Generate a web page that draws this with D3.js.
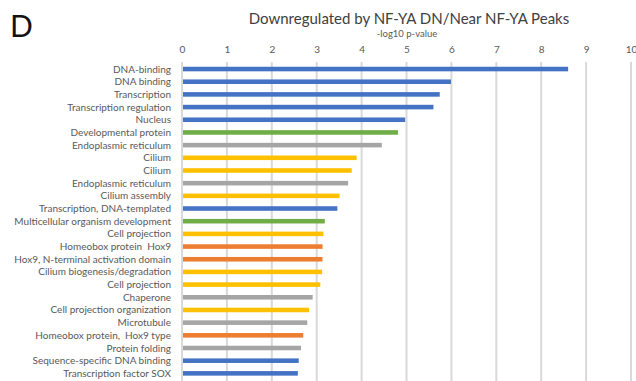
<!DOCTYPE html>
<html>
<head>
<meta charset="utf-8">
<script src="https://cdn.jsdelivr.net/npm/d3@7"></script>
<style>
  html, body { margin: 0; padding: 0; background: #fff; }
  svg { display: block; }
</style>
</head>
<body>
<svg id="chart" width="636" height="381"></svg>
<script>
// Functional annotation terms, top to bottom
const terms = [
  "DNA-binding", "DNA binding", "Transcription", "Transcription regulation",
  "Nucleus", "Developmental protein", "Endoplasmic reticulum", "Cilium",
  "Cilium", "Endoplasmic reticulum", "Cilium assembly",
  "Transcription, DNA-templated", "Multicellular organism development",
  "Cell projection", "Homeobox protein  Hox9", "Hox9, N-terminal activation domain",
  "Cilium biogenesis/degradation", "Cell projection", "Chaperone",
  "Cell projection organization", "Microtubule", "Homeobox protein,  Hox9 type",
  "Protein folding", "Sequence-specific DNA binding", "Transcription factor SOX"
];
// -log10 p-values
const pValues = [
  8.6, 5.99, 5.74, 5.6, 4.97, 4.81, 4.45, 3.89, 3.78, 3.7, 3.51, 3.46,
  3.18, 3.15, 3.13, 3.13, 3.12, 3.08, 2.91, 2.83, 2.79, 2.7, 2.65, 2.6, 2.58
];
// Functional group of each term
const groups = [
  "nuclear", "nuclear", "nuclear", "nuclear", "nuclear", "development", "other",
  "cilia", "cilia", "other", "cilia", "nuclear", "development", "cilia",
  "hox", "hox", "cilia", "cilia", "other", "cilia", "other", "hox", "other",
  "nuclear", "nuclear"
];
const groupNames = ["nuclear", "development", "other", "cilia", "hox"];
const groupColors = ["#4472C4", "#70AD47", "#A5A5A5", "#FFC000", "#ED7D31"];
const xTicks = [0, 1, 2, 3, 4, 5, 6, 7, 8, 9, 10];

const svg = d3.select("#chart");
const font = "Lato, 'Open Sans', sans-serif";

const x = d3.scaleLinear().domain([0, 10]).range([182, 631]);
const y = d3.scaleBand().domain(d3.range(terms.length)).range([62.7, 379.7])
  .paddingInner(0.64).paddingOuter(0.32);
const color = d3.scaleOrdinal().domain(groupNames).range(groupColors);

// Panel letter
svg.append("text")
  .attr("x", 10).attr("y", 37)
  .attr("font-family", font).attr("font-size", 30).attr("fill", "#111")
  .text("D");

// Title and axis title
svg.append("text")
  .attr("x", 409).attr("y", 24).attr("text-anchor", "middle")
  .attr("font-family", font).attr("font-size", 15).attr("fill", "#404040")
  .text("Downregulated by NF-YA DN/Near NF-YA Peaks");
svg.append("text")
  .attr("x", 407).attr("y", 37).attr("text-anchor", "middle")
  .attr("font-family", font).attr("font-size", 9.5).attr("fill", "#595959")
  .text("-log10 p-value");

// Vertical gridlines
svg.append("g")
  .selectAll("line").data(xTicks).join("line")
  .attr("x1", d => x(d)).attr("x2", d => x(d))
  .attr("y1", 62).attr("y2", 381)
  .attr("stroke", "#d9d9d9").attr("stroke-width", 2);

// Top axis tick labels
const axis = svg.append("g")
  .attr("transform", "translate(0,53)")
  .call(d3.axisTop(x).tickValues(xTicks).tickSize(0).tickPadding(0).tickFormat(d3.format("d")));
axis.select(".domain").remove();
axis.selectAll("text")
  .attr("font-family", font).attr("font-size", 10).attr("fill", "#595959");

// Bars
svg.append("g")
  .selectAll("rect").data(pValues).join("rect")
  .attr("x", x(0) + 1)
  .attr("y", (d, i) => y(i))
  .attr("width", d => x(d) - x(0) - 1)
  .attr("height", y.bandwidth())
  .attr("fill", (d, i) => color(groups[i]));

// Category labels
svg.append("g")
  .selectAll("text").data(terms).join("text")
  .attr("x", 171)
  .attr("y", (d, i) => y(i) + y.bandwidth() / 2)
  .attr("dy", "0.35em")
  .attr("text-anchor", "end")
  .attr("font-family", font).attr("font-size", 10).attr("fill", "#595959")
  .attr("xml:space", "preserve")
  .style("white-space", "pre")
  .text(d => d);
</script>
</body>
</html>
